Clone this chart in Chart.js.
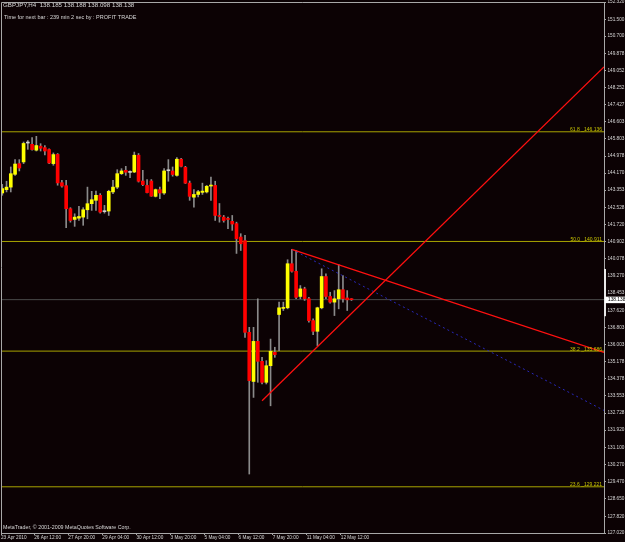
<!DOCTYPE html>
<html><head><meta charset="utf-8">
<script src="https://cdn.jsdelivr.net/npm/chart.js@4.4.1/dist/chart.umd.min.js"></script>
<style>html,body{margin:0;padding:0;background:#0c0204;overflow:hidden}#wrap{width:625px;height:542px;position:relative}</style>
</head><body><div id="wrap"><canvas id="c"></canvas></div>
<script>
// ---- data (GBPJPY H4) ----
const barOpen = [143.22,143.38,143.50,144.11,144.62,144.70,145.60,145.54,145.26,145.45,
145.38,145.29,144.62,145.06,143.71,143.57,142.47,141.96,142.02,142.07,
142.42,142.71,142.87,143.11,142.33,142.36,143.27,143.50,144.14,144.30,
144.20,144.22,145.02,143.79,143.58,143.79,143.06,143.38,143.22,144.28,
144.27,144.06,144.83,144.44,143.69,143.02,143.15,143.25,143.27,143.55,
143.58,142.15,142.07,142.00,141.87,141.76,141.12,140.95,136.58,134.24,
136.15,135.20,134.20,134.99,135.63,137.43,137.72,137.75,139.85,139.49,
138.29,138.65,138.18,137.14,136.63,137.75,139.24,138.29,138.02,138.18,
138.61,138.22,138.185];
const barHigh = [143.63,143.78,144.46,144.81,144.81,145.65,145.72,145.86,145.92,145.57,
145.48,145.32,145.13,145.10,143.82,143.82,142.52,142.23,142.58,142.52,
143.50,143.30,143.31,143.19,142.63,143.35,143.82,144.33,144.38,144.49,
144.27,145.17,145.10,144.30,143.86,143.86,143.41,143.50,144.38,144.81,
144.46,144.91,144.87,144.49,143.79,143.38,143.35,143.69,143.58,143.98,
143.78,142.72,142.15,142.07,142.15,141.83,141.28,141.20,136.82,136.82,
138.18,135.39,135.23,136.26,135.87,138.02,138.02,140.04,140.53,140.48,
138.81,138.73,138.25,137.22,137.78,139.61,139.37,138.49,138.57,139.81,
139.29,138.57,138.188];
const barLow = [143.11,143.27,143.27,144.06,144.27,144.62,145.30,145.26,145.22,145.22,
145.03,144.62,144.54,143.59,143.50,141.57,141.83,141.63,141.91,141.68,
141.99,142.39,142.39,142.26,142.26,142.15,143.19,143.43,144.10,144.06,
143.95,144.19,143.74,143.57,143.22,143.06,143.03,142.95,143.15,143.78,
144.02,144.02,144.46,143.67,142.87,142.55,143.03,143.15,143.22,142.87,
141.91,141.83,141.83,141.52,141.44,140.34,140.48,136.34,129.83,133.48,
134.20,134.12,134.12,133.08,135.39,135.71,137.62,137.70,139.45,138.18,
138.18,138.10,137.06,136.47,135.95,137.70,138.18,137.97,137.38,137.70,
138.02,137.62,138.098];
const barClose = [143.43,143.50,144.14,144.60,144.41,145.58,145.62,145.29,145.48,145.35,
145.22,144.65,145.05,143.70,143.55,142.47,141.91,142.07,142.10,142.42,
142.71,142.90,143.11,142.31,142.35,143.30,143.50,144.14,144.27,144.21,
144.22,145.02,143.78,143.62,143.24,143.07,143.38,143.22,144.27,144.30,
144.10,144.83,144.49,143.69,143.06,143.15,143.28,143.31,143.54,143.58,
142.15,142.10,141.91,141.96,141.74,141.04,140.80,136.58,134.28,136.15,
135.20,134.20,134.99,135.68,135.52,137.75,137.76,139.85,139.49,138.25,
138.65,138.18,137.14,136.63,137.75,139.24,138.29,138.02,138.18,138.61,
138.18,138.13,138.138];

const priceTickLabels = ['152.320','151.500','150.700','149.878','149.052','148.252','147.427','146.603',
'145.803','144.978','144.170','143.353','142.528','141.720','140.902','140.078','139.270','138.453',
'137.620','136.803','136.003','135.178','134.378','133.553','132.728','131.920','131.100','130.270',
'129.470','128.650','127.820','127.020'];
const timeTickBars = [0,8,16,24,32,40,48,56,64,72,80];
const timeTickLabels = ['23 Apr 2010','26 Apr 12:00','27 Apr 20:00','29 Apr 04:00','30 Apr 12:00',
'3 May 20:00','5 May 04:00','6 May 12:00','7 May 20:00','11 May 04:00','12 May 12:00'];

const fibNames = ['61.8','50.0','38.2','23.6'];
const fibLevels = [146.136,140.911,135.686,129.221];
const bidPrice = 138.138;
const axisMarkRange = [137.35,139.60];
// trend lines: [bar, price] pairs
const lowerTrend = [[61,133.32],[141.3,149.23]];
const upperTrend = [[68,140.53],[141.3,135.62]];
const channelTrend = [[68,140.53],[141.3,132.86]];

const headerLine1 = 'GBPJPY,H4  138.185 138.188 138.098 138.138';
const headerLine2 = 'Time for next bar : 239 min 2 sec by : PROFIT TRADE';
const footer = 'MetaTrader, \u00a9 2001-2009 MetaQuotes Software Corp.';

// ---- view ----
const X_MIN = -0.3, X_MAX = 141.3, Y_MIN = 127.02, Y_MAX = 152.32;
const BG = '#0c0204';
const FONT = "'Liberation Sans',Arial,sans-serif";
const TXT = '#d8d8d8';
const FIB = '#a8a400';

const idx = barOpen.map((_, i) => i);
const bodies = idx.map(i => ({x: i, y: [barOpen[i], barClose[i]]}));
const wicks = idx.map(i => ({x: i, y: [barLow[i], barHigh[i]]}));
const seg = p => p.map(([b, v]) => ({x: b, y: v}));

const lineDs = (data, color, order, extra) => Object.assign({
  type: 'line', data, borderColor: color, borderWidth: 1, pointRadius: 0,
  fill: false, tension: 0, order
}, extra || {});

const datasets = [
  lineDs([{x: X_MIN, y: bidPrice}, {x: X_MAX, y: bidPrice}], '#4a4a4a', 20),
  ...fibLevels.map(l => lineDs([{x: X_MIN, y: l}, {x: X_MAX, y: l}], FIB, 15)),
  {type: 'bar', data: wicks, backgroundColor: '#8a8a8a', barThickness: 1, grouped: false, order: 10, borderWidth: 0},
  {type: 'bar', data: bodies, grouped: false, order: 9, borderWidth: 0, barThickness: 3, minBarLength: 1,
   backgroundColor: c => {
     const i = c.dataIndex;
     if (i === undefined) return '#ffff00';
     if (Math.abs(barClose[i] - barOpen[i]) < 0.03) return '#d0d0d0';
     return barClose[i] >= barOpen[i] ? '#ffff00' : '#ff0000';
   }},
  lineDs(seg(channelTrend), '#2828b8', 5, {borderDash: [2, 3]}),
  lineDs(seg(upperTrend), '#ff1010', 3, {borderWidth: 1.3}),
  lineDs(seg(lowerTrend), '#ff1010', 3, {borderWidth: 1.3})
];

const decor = {
  id: 'decor',
  beforeDraw(chart) {
    const {ctx, width, height} = chart;
    ctx.save(); ctx.fillStyle = BG; ctx.fillRect(0, 0, width, height); ctx.restore();
  },
  afterDraw(chart) {
    const {ctx, chartArea: a, scales: {y}} = chart;
    ctx.save();
    ctx.strokeStyle = '#a8a8a8'; ctx.lineWidth = 1;
    ctx.beginPath();
    ctx.moveTo(a.left + 0.5, a.bottom); ctx.lineTo(a.left + 0.5, a.top + 0.5); ctx.lineTo(a.right, a.top + 0.5);
    ctx.stroke();
    // axis mark
    const m1 = y.getPixelForValue(axisMarkRange[1]), m0 = y.getPixelForValue(axisMarkRange[0]);
    ctx.fillStyle = '#e8e8e8';
    ctx.fillRect(a.right, m1, 2, m0 - m1);
    // fib labels
    ctx.font = '5px ' + FONT;
    ctx.fillStyle = '#c8c400'; ctx.textAlign = 'right'; ctx.textBaseline = 'alphabetic';
    fibLevels.forEach((lv, i) => {
      ctx.fillText(fibNames[i] + ' _' + lv.toFixed(3), a.right - 2, y.getPixelForValue(lv) - 0.5);
    });
    // bid label
    const by = y.getPixelForValue(bidPrice);
    ctx.fillStyle = '#ffffff'; ctx.fillRect(a.right + 1, by - 3, 22, 6.5);
    ctx.fillStyle = '#000000'; ctx.textAlign = 'left'; ctx.textBaseline = 'middle';
    ctx.font = '4.8px ' + FONT;
    ctx.fillText(bidPrice.toFixed(3), a.right + 4, by + 0.3);
    // header and footer
    ctx.fillStyle = TXT;
    ctx.font = '6.2px ' + FONT;
    ctx.fillText(headerLine1, 3, 5);
    ctx.font = '5.5px ' + FONT;
    ctx.fillText(headerLine2, 4, 17);
    ctx.font = '5.3px ' + FONT;
    ctx.fillText(footer, 3, 528);
    ctx.restore();
  }
};

new Chart(document.getElementById('c'), {
  type: 'bar',
  data: {datasets},
  plugins: [decor],
  options: {
    responsive: true, maintainAspectRatio: false, animation: false,
    layout: {padding: {left: 1, top: 2, right: 0, bottom: 0}},
    plugins: {legend: {display: false}, tooltip: {enabled: false}},
    scales: {
      x: {
        type: 'linear', min: X_MIN, max: X_MAX, offset: false,
        afterBuildTicks: s => { s.ticks = timeTickBars.map(b => ({value: Math.max(X_MIN, b - 0.5)})); },
        afterFit: s => { s.height = 9; s.paddingLeft = 0; s.paddingRight = 0; },
        ticks: {autoSkip: false, maxRotation: 0, minRotation: 0, align: 'start', color: TXT, padding: 0,
                font: {family: FONT, size: 4.7}, callback: (v, i) => timeTickLabels[i]},
        grid: {drawOnChartArea: false, drawTicks: true, tickLength: 2, color: '#a8a8a8', offset: false},
        border: {display: true, color: '#a8a8a8'}
      },
      y: {
        type: 'linear', position: 'right', min: Y_MIN, max: Y_MAX,
        afterBuildTicks: s => { s.ticks = priceTickLabels.map(t => ({value: parseFloat(t)})); },
        afterFit: s => { s.width = 21; s.paddingTop = 0; s.paddingBottom = 0; },
        ticks: {autoSkip: false, color: TXT, padding: 1.5, font: {family: FONT, size: 4.7},
                callback: (v, i) => priceTickLabels[i]},
        grid: {drawOnChartArea: false, drawTicks: true, tickLength: 2, color: '#a8a8a8'},
        border: {display: true, color: '#a8a8a8'}
      }
    }
  }
});
</script></body></html>
